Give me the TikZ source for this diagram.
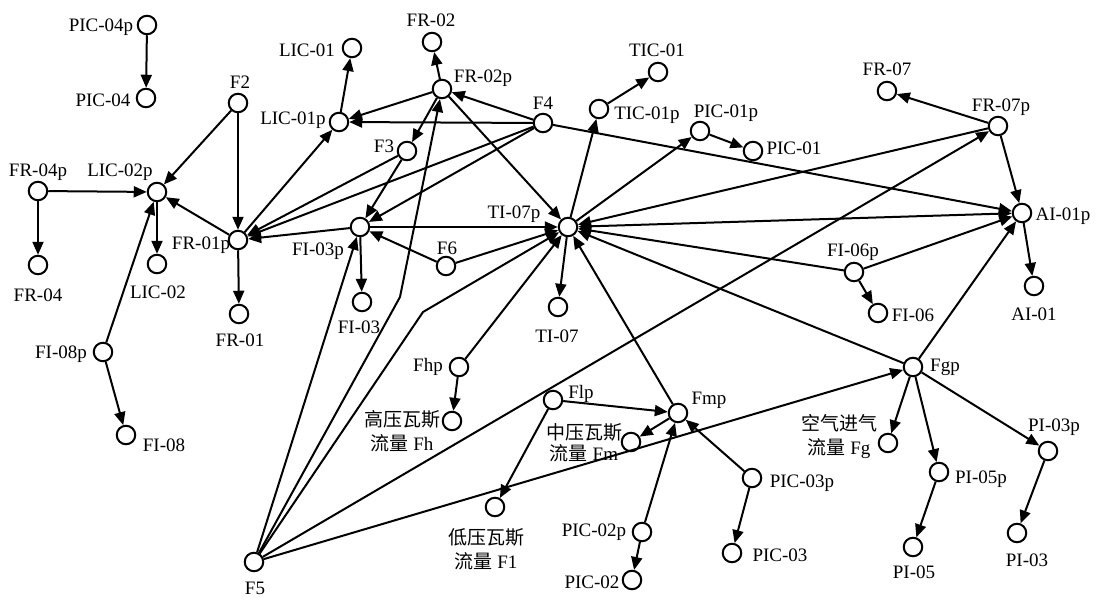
\documentclass[tikz,border=0pt]{standalone}
\usepackage{fontspec}
\setmainfont{Liberation Serif}
\newfontfamily\cjk{Noto Sans CJK SC}
\usetikzlibrary{arrows.meta}
\begin{document}
\begin{tikzpicture}[x=1pt,y=-1pt,
  nd/.style={circle, draw, line width=2pt, minimum size=18.5pt, inner sep=0pt, fill=white},
  lb/.style={font=\fontsize{19}{24}\selectfont, inner sep=0pt, align=center},
  ar/.style={line width=2pt, -{Triangle[length=13pt,width=11pt]}},
  br/.style={line width=2pt, {Triangle[length=13pt,width=11pt]}-{Triangle[length=13pt,width=11pt]}},
  ln/.style={line width=2pt}]
\useasboundingbox (0,0) rectangle (1100,597);
% circles
\node[nd] (PIC04p) at (147,25) {};
\node[nd] (PIC04) at (146,98) {};
\node[nd] (LIC01) at (352,48) {};
\node[nd] (F2) at (238,103) {};
\node[nd] (LIC01p) at (339,122) {};
\node[nd] (FR04p) at (38,191) {};
\node[nd] (LIC02p) at (157,192) {};
\node[nd] (FR01p) at (238,240) {};
\node[nd] (FR04) at (38,265) {};
\node[nd] (LIC02) at (157,264) {};
\node[nd] (FI03p) at (360,227) {};
\node[nd] (FR01) at (239,314) {};
\node[nd] (FI08p) at (103,352) {};
\node[nd] (FI08) at (126,435) {};
\node[nd] (F5) at (254,562) {};
\node[nd] (FR02) at (432,42) {};
\node[nd] (FR02p) at (442,89) {};
\node[nd] (TIC01) at (658,72) {};
\node[nd] (F4) at (543,123) {};
\node[nd] (TIC01p) at (599,109) {};
\node[nd] (F3) at (407,151) {};
\node[nd] (TI07p) at (568,227) {};
\node[nd] (F6) at (446,266) {};
\node[nd] (FI03) at (362,302) {};
\node[nd] (TI07) at (558,307) {};
\node[nd] (Fhp) at (459,367) {};
\node[nd] (Fh) at (452,421) {};
\node[nd] (Flp) at (553,400) {};
\node[nd] (Fmp) at (678,413) {};
\node[nd] (Fm) at (631,442) {};
\node[nd] (Fl) at (495,507) {};
\node[nd] (PIC02p) at (642,532) {};
\node[nd] (PIC02) at (632,580) {};
\node[nd] (FR07) at (887,91) {};
\node[nd] (FR07p) at (998,126) {};
\node[nd] (PIC01p) at (700,131) {};
\node[nd] (PIC01) at (753,151) {};
\node[nd] (AI01p) at (1022,213) {};
\node[nd] (FI06p) at (854,272) {};
\node[nd] (AI01) at (1034,286) {};
\node[nd] (FI06) at (878,313) {};
\node[nd] (Fgp) at (913,367) {};
\node[nd] (Fg) at (888,443) {};
\node[nd] (PI05p) at (939,472) {};
\node[nd] (PI03p) at (1048,451) {};
\node[nd] (PIC03p) at (752,478) {};
\node[nd] (PIC03) at (732,553) {};
\node[nd] (PI05) at (913,547) {};
\node[nd] (PI03) at (1017,533) {};
% bend points
\coordinate (b1) at (400,297);
\coordinate (b2) at (423,312);
% labels
\node[lb] (lPIC04p) at (101,27) {PIC-04p};
\node[lb] (lPIC04) at (103,100) {PIC-04};
\node[lb] (lLIC01) at (307,50) {LIC-01};
\node[lb] (lF2) at (240,82) {F2};
\node[lb] (lLIC01p) at (293,120) {LIC-01p};
\node[lb] (lFR04p) at (38,172) {FR-04p};
\node[lb] (lLIC02p) at (120,172) {LIC-02p};
\node[lb] (lFR01p) at (201,245) {FR-01p};
\node[lb] (lFR04) at (38,295) {FR-04};
\node[lb] (lLIC02) at (158,292) {LIC-02};
\node[lb] (lFI03p) at (318,251) {FI-03p};
\node[lb] (lFR01) at (240,340) {FR-01};
\node[lb] (lFR02) at (431,20) {FR-02};
\node[lb] (lFR02p) at (483,78) {FR-02p};
\node[lb] (lTIC01) at (657,50) {TIC-01};
\node[lb] (lF4) at (543,103) {F4};
\node[lb] (lTIC01p) at (647,115) {TIC-01p};
\node[lb] (lF3) at (384,146) {F3};
\node[lb] (lTI07p) at (514,214) {TI-07p};
\node[lb] (lF6) at (447,248) {F6};
\node[lb] (lFI03) at (359,327) {FI-03};
\node[lb] (lTI07) at (557,336) {TI-07};
\node[lb] (lFhp) at (428,367) {Fhp};
\node[lb] (lFh) at (402,431) {{\cjk 高压瓦斯}\\{\cjk 流量} Fh};
\node[lb] (lFlp) at (581,394) {Flp};
\node[lb] (lFmp) at (709,400) {Fmp};
\node[lb,font=\fontsize{19}{21}\selectfont] (lFm) at (584,443) {{\cjk 中压瓦斯}\\{\cjk 流量} Fm};
\node[lb] (lFl) at (486,549) {{\cjk 低压瓦斯}\\{\cjk 流量} F1};
\node[lb] (lPIC02p) at (594,532) {PIC-02p};
\node[lb] (lPIC02) at (592,582) {PIC-02};
\node[lb] (lFgp) at (945,367) {Fgp};
\node[lb] (lFg) at (839,437) {{\cjk 空气进气}\\{\cjk 流量} Fg};
\node[lb] (lPI05p) at (981,479) {PI-05p};
\node[lb] (lPI03p) at (1054,427) {PI-03p};
\node[lb] (lPIC03p) at (802,483) {PIC-03p};
\node[lb] (lPIC03) at (780,555) {PIC-03};
\node[lb] (lPI05) at (914,572) {PI-05};
\node[lb] (lPI03) at (1027,560) {PI-03};
\node[lb] (lFR07) at (887,69) {FR-07};
\node[lb] (lFR07p) at (1001,107) {FR-07p};
\node[lb] (lPIC01p) at (726,113) {PIC-01p};
\node[lb] (lPIC01) at (794,148) {PIC-01};
\node[lb] (lAI01p) at (1063,216) {AI-01p};
\node[lb] (lFI06p) at (853,252) {FI-06p};
\node[lb] (lAI01) at (1034,314) {AI-01};
\node[lb] (lFI06) at (913,315) {FI-06};
\node[lb] (lFI08p) at (61,354) {FI-08p};
\node[lb] (lFI08) at (164,445) {FI-08};
\node[lb] (lF5) at (255,588) {F5};
% connectors
\draw[ar] (PIC04p) -- (PIC04);
\draw[ar] (F2) -- (LIC02p);
\draw[ar] (F2) -- (FR01p);
\draw[ar] (LIC01p) -- (LIC01);
\draw[ar] (FR04p) -- (LIC02p);
\draw[ar] (FR04p) -- (FR04);
\draw[ar] (LIC02p) -- (LIC02);
\draw[ar] (FR01p) -- (LIC02p);
\draw[ar] (FR01p) -- (LIC01p);
\draw[ar] (FR01p) -- (FR01);
\draw[ar] (FI08p) -- (LIC02p);
\draw[ar] (FI08p) -- (FI08);
\draw[ar] (FR02p) -- (FR02);
\draw[ar] (FR02p) -- (LIC01p);
\draw[ar] (F4) -- (LIC01p);
\draw[ar] (F4) -- (FR02p);
\draw[ar] (FR02p) -- (F3);
\draw[ar] (F3) -- (FR01p);
\draw[ar] (F4) -- (FR01p);
\draw[ar] (F3) -- (FI03p);
\draw[ar] (F4) -- (FI03p);
\draw[ar] (FI03p) -- (FR01p);
\draw[ar] (FI03p) -- (FI03);
\draw[ar] (F6) -- (FI03p);
\draw[ar] (FR02p) -- (TI07p);
\draw[ar] (FI03p) -- (TI07p);
\draw[ar] (F6) -- (TI07p);
\draw[ar] (F5) -- (FI03p);
\draw[ar] (F5) -- (b1) -- (FR02p);
\draw[ar] (F5) -- (b2) -- (TI07p);
\draw[ar] (F5) -- (FR07p);
\draw[ar] (F5) -- (Fgp);
\draw[ar] (F4) -- (AI01p);
\draw[ar] (TI07p) -- (TIC01p);
\draw[ar] (TIC01p) -- (TIC01);
\draw[ar] (TI07p) -- (PIC01p);
\draw[ar] (PIC01p) -- (PIC01);
\draw[ar] (TI07p) -- (TI07);
\draw[br] (TI07p) -- (AI01p);
\draw[ar] (FR07p) -- (TI07p);
\draw[ar] (FR07p) -- (FR07);
\draw[ar] (FR07p) -- (AI01p);
\draw[ar] (FI06p) -- (TI07p);
\draw[ar] (FI06p) -- (AI01p);
\draw[ar] (FI06p) -- (FI06);
\draw[ar] (Fgp) -- (TI07p);
\draw[ar] (Fgp) -- (AI01p);
\draw[ar] (AI01p) -- (AI01);
\draw[ar] (Fhp) -- (TI07p);
\draw[ar] (Fhp) -- (Fh);
\draw[ar] (Fmp) -- (TI07p);
\draw[ar] (Flp) -- (Fmp);
\draw[ar] (Flp) -- (Fl);
\draw[ar] (Fmp) -- (Fm);
\draw[ar] (PIC02p) -- (Fmp);
\draw[ar] (PIC02p) -- (PIC02);
\draw[ar] (PIC03p) -- (Fmp);
\draw[ar] (PIC03p) -- (PIC03);
\draw[ar] (Fgp) -- (Fg);
\draw[ar] (Fgp) -- (PI05p);
\draw[ar] (Fgp) -- (PI03p);
\draw[ar] (PI05p) -- (PI05);
\draw[ar] (PI03p) -- (PI03);
\end{tikzpicture}
\end{document}
